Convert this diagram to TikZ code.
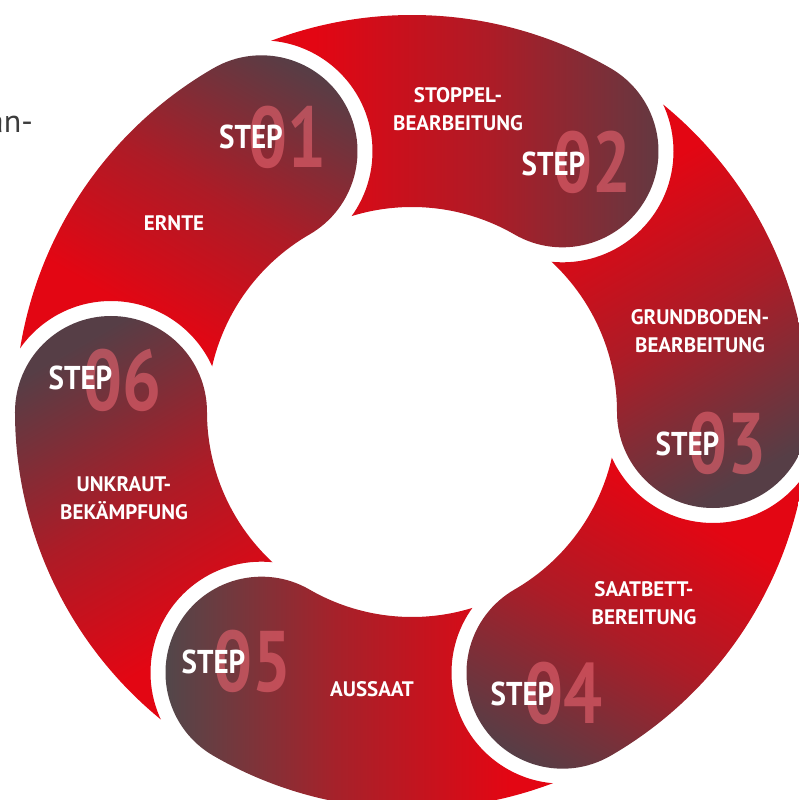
\documentclass[tikz,border=0pt]{standalone}
\usepackage{fontspec}
\usepackage{graphicx}
\setmainfont{PT Sans}
\newfontfamily\stepfont[FakeStretch=0.88]{PT Sans}
\newfontfamily\numfont[FakeStretch=0.8]{PT Sans}
\newfontfamily\labfont{PT Sans}
\definecolor{cred}{RGB}{227,6,19}
\definecolor{cdark}{RGB}{86,62,70}
\definecolor{cgrey}{RGB}{66,78,80}
\definecolor{cnum}{RGB}{232,100,112}
\definecolor{ctext}{RGB}{60,60,60}
\colorlet{cmid}{cred!62!cdark}
\colorlet{cmidg}{cred!62!cgrey}
\pgfdeclareverticalshading{segshade}{100bp}{color(0bp)=(cred); color(36bp)=(cred); color(55bp)=(cmid); color(77bp)=(cdark); color(100bp)=(cdark)}
\pgfdeclareverticalshading{segshadeg}{100bp}{color(0bp)=(cred); color(36bp)=(cred); color(55bp)=(cmidg); color(77bp)=(cgrey); color(100bp)=(cgrey)}
\def\Ri{205}\def\Ro{397}\def\Rm{301}\def\rh{96}\def\rg{111}
\tikzset{
  seglabel/.style={text=white, font=\labfont\bfseries\fontsize{21}{28}\selectfont, align=center, inner sep=0pt},
  steplabel/.style={text=white, font=\stepfont\bfseries\fontsize{33}{33}\selectfont, inner sep=0pt},
  numlabel/.style={text=cnum, text opacity=0.6, font=\numfont\bfseries\fontsize{86}{86}\selectfont, inner sep=0pt},
}
\newcommand{\ringseg}[3]{% head angle, tail angle, shading
  \begin{scope}
    \clip (-600,-600) -- (-600,600) -- (600,600) -- (600,-600) -- cycle
       (#2:\Rm) ++(\rg,0) arc[start angle=0, end angle=360, radius=\rg];
    \pgfmathsetmacro\shang{#1-150}
    \shade[shading=#3, shading angle=\shang]
       (#2:\Ro) arc[start angle=#2, end angle=#1, radius=\Ro]
       arc[start angle=#1, end angle=#1-180, radius=\rh]
       arc[start angle=#1, end angle=#2, radius=\Ri] -- cycle;
  \end{scope}}
\begin{document}
\begin{tikzpicture}[x=1pt,y=1pt]
\useasboundingbox (-412,-388) rectangle (386,412);
\ringseg{120}{180}{segshade}
\ringseg{60}{120}{segshade}
\ringseg{0}{60}{segshade}
\ringseg{-60}{0}{segshade}
\ringseg{-120}{-60}{segshadeg}
\ringseg{-180}{-120}{segshade}
% big numbers
\node[numlabel] (n1) at (-124.5,275) {01};
\node[numlabel] (n2) at (180.5,249.5) {02};
\node[numlabel] (n3) at (315.5,-31) {03};
\node[numlabel] (n4) at (151.5,-281) {04};
\node[numlabel] (n5) at (-159,-249) {05};
\node[numlabel] (n6) at (-289,32) {06};
% STEP words
\node[steplabel] (s1) at (-161,275.5) {STEP};
\node[steplabel] (s2) at (141.5,248.5) {STEP};
\node[steplabel] (s3) at (275.5,-31.5) {STEP};
\node[steplabel] (s4) at (110.5,-281.5) {STEP};
\node[steplabel] (s5) at (-198.5,-249.5) {STEP};
\node[steplabel] (s6) at (-331.5,34) {STEP};
% labels
\node[seglabel] (l1) at (-238,189) {ERNTE};
\node[seglabel] (l2) at (46,303) {STOPPEL-\\BEARBEITUNG};
\node[seglabel] (l3) at (288,81) {GRUNDBODEN-\\BEARBEITUNG};
\node[seglabel] (l4) at (232,-191) {SAATBETT-\\BEREITUNG};
\node[seglabel] (l5) at (-40,-277.5) {AUSSAAT};
\node[seglabel] (l6) at (-288,-86) {UNKRAUT-\\BEKÄMPFUNG};
\node[anchor=base east, text=ctext, font=\fontsize{32}{32}\selectfont, inner sep=0pt] (an) at (-379,279) {an-};
\end{tikzpicture}
\end{document}
